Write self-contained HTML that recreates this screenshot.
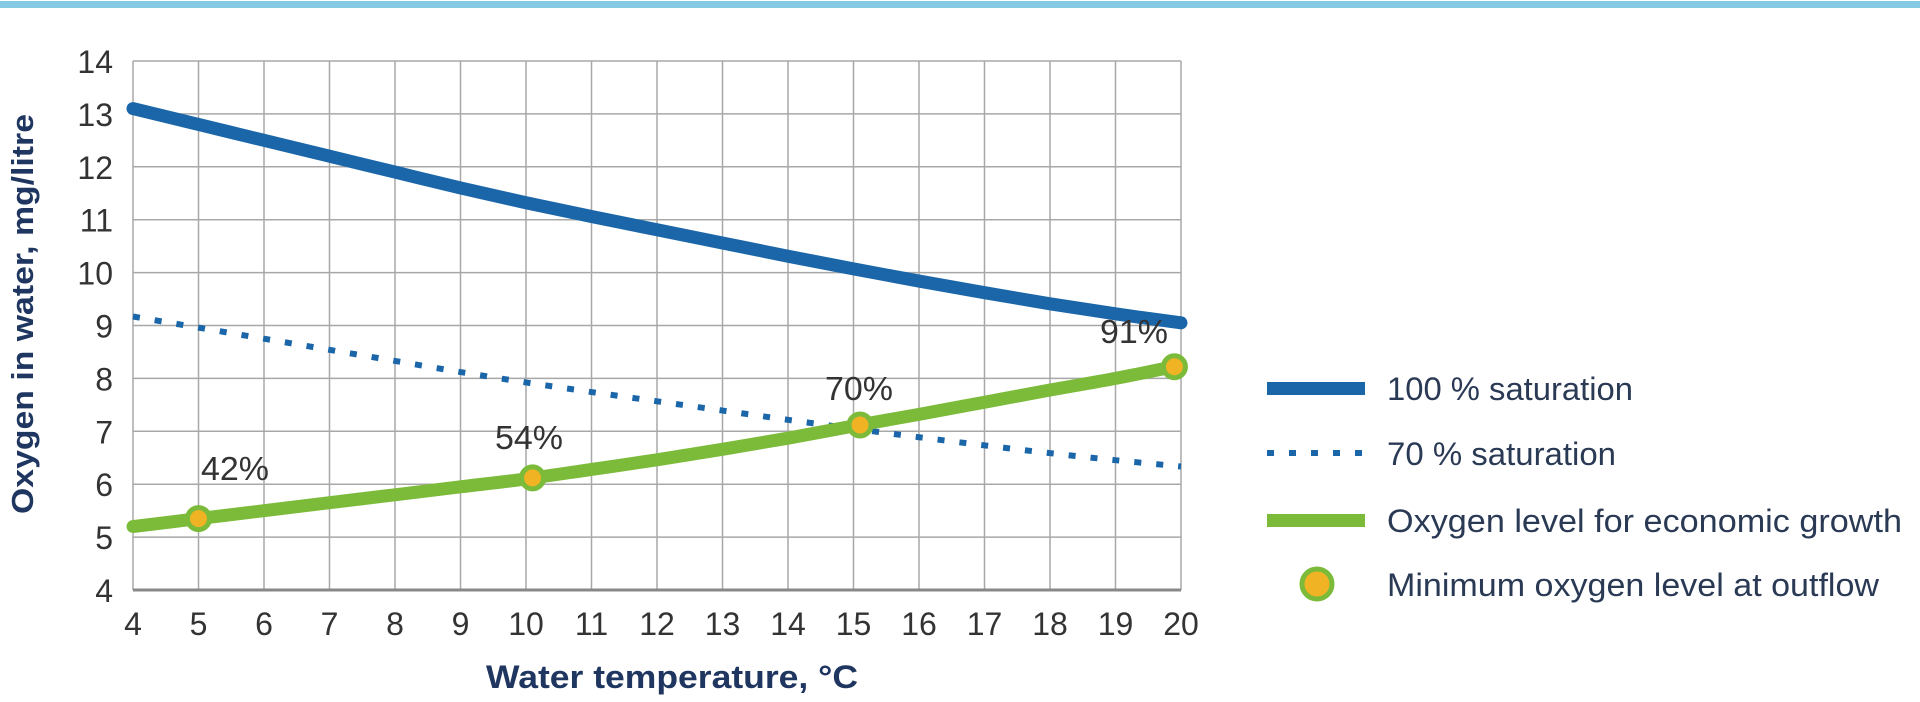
<!DOCTYPE html>
<html><head><meta charset="utf-8"><style>
html,body{margin:0;padding:0;background:#fff;}
svg{display:block;}
text{font-family:"Liberation Sans Narrow","Liberation Sans",sans-serif;}
</style></head><body>
<svg id="s" width="1920" height="702" xmlns="http://www.w3.org/2000/svg">
<rect x="0" y="1" width="1920" height="7" fill="#86c9e3"/>
<g id="grid" stroke="#a8a8a8" stroke-width="1.5" fill="none"></g>
<g id="ylab" font-size="32" fill="#333" text-anchor="end"></g>
<g id="xlab" font-size="32" fill="#333" text-anchor="middle"></g>
<path id="blue" fill="none" stroke="#1a66a8" stroke-width="13" stroke-linecap="round" stroke-linejoin="round"/>
<path id="dot" fill="none" stroke="#1a66a8" stroke-width="6" stroke-dasharray="7 15"/>
<path id="green" fill="none" stroke="#7cbb3a" stroke-width="13" stroke-linecap="round" stroke-linejoin="round"/>
<g id="pts" fill="#f0b323" stroke="#7cbb3a" stroke-width="5"></g>
<g font-size="33" fill="#333">
<text x="201" y="480" textLength="68" lengthAdjust="spacingAndGlyphs">42%</text>
<text x="495" y="449" textLength="68" lengthAdjust="spacingAndGlyphs">54%</text>
<text x="825" y="400" textLength="68" lengthAdjust="spacingAndGlyphs">70%</text>
<text x="1100" y="343" textLength="68" lengthAdjust="spacingAndGlyphs">91%</text>
</g>
<text x="486" y="688" font-size="32" font-weight="bold" fill="#1f3660" textLength="372" lengthAdjust="spacingAndGlyphs" style="font-family:'Liberation Sans',sans-serif">Water temperature, °C</text>
<text transform="translate(33,514) rotate(-90)" font-size="31" font-weight="bold" fill="#1f3660" textLength="400" lengthAdjust="spacingAndGlyphs" style="font-family:'Liberation Sans',sans-serif">Oxygen in water, mg/litre</text>
<rect x="1267" y="382" width="98" height="13" fill="#1a66a8"/>
<line x1="1267" y1="453" x2="1365" y2="453" stroke="#1a66a8" stroke-width="6" stroke-dasharray="7 15"/>
<rect x="1267" y="514" width="98" height="13" fill="#7cbb3a"/>
<circle cx="1317" cy="584" r="15" fill="#f0b323" stroke="#7cbb3a" stroke-width="5"/>
<g font-size="32" fill="#2a3a55">
<text x="1387" y="400" textLength="246" lengthAdjust="spacingAndGlyphs">100 % saturation</text>
<text x="1387" y="465" textLength="229" lengthAdjust="spacingAndGlyphs">70 % saturation</text>
<text x="1387" y="532" textLength="515" lengthAdjust="spacingAndGlyphs">Oxygen level for economic growth</text>
<text x="1387" y="596" textLength="492" lengthAdjust="spacingAndGlyphs">Minimum oxygen level at outflow</text>
</g>
</svg>
<script>
var X=t=>133+(t-4)*65.5, Y=v=>590-(v-4)*52.9;
var g=document.getElementById('grid'),h='';
for(var t=4;t<=20;t++)h+='<line x1="'+X(t)+'" y1="61" x2="'+X(t)+'" y2="590"/>';
for(var v=4;v<=14;v++)h+='<line x1="133" y1="'+Y(v)+'" x2="1181" y2="'+Y(v)+'"/>';
g.innerHTML=h+'<line x1="133" y1="590" x2="1181" y2="590" stroke="#888" stroke-width="3"/>';
var yl='';for(v=4;v<=14;v++)yl+='<text x="113" y="'+(Y(v)+12)+'">'+v+'</text>';
document.getElementById('ylab').innerHTML=yl;
var xl='';for(t=4;t<=20;t++)xl+='<text x="'+X(t)+'" y="635">'+t+'</text>';
document.getElementById('xlab').innerHTML=xl;
var b=[13.1,12.8,12.5,12.2,11.9,11.6,11.32,11.06,10.81,10.56,10.31,10.07,9.84,9.62,9.41,9.22,9.05];
var gr=[5.2,5.35,5.5,5.65,5.8,5.95,6.1,6.28,6.46,6.66,6.87,7.1,7.32,7.55,7.78,8.0,8.25];
function p(a,f){var P=a.map((v,i)=>[X(4+i),Y(f?v*f:v)]);var d='M'+P[0][0]+' '+P[0][1];
for(var i=0;i<P.length-1;i++){var p0=P[Math.max(0,i-1)],p1=P[i],p2=P[i+1],p3=P[Math.min(P.length-1,i+2)];
d+=' C'+(p1[0]+(p2[0]-p0[0])/6)+' '+(p1[1]+(p2[1]-p0[1])/6)+' '+(p2[0]-(p3[0]-p1[0])/6)+' '+(p2[1]-(p3[1]-p1[1])/6)+' '+p2[0]+' '+p2[1];}return d;}
document.getElementById('blue').setAttribute('d',p(b));
document.getElementById('dot').setAttribute('d',p(b,0.7));
document.getElementById('green').setAttribute('d',p(gr));
var pts=[[5,5.35],[10.1,6.12],[15.1,7.12],[19.9,8.22]];
document.getElementById('pts').innerHTML=pts.map(q=>'<circle cx="'+X(q[0])+'" cy="'+Y(q[1])+'" r="11"/>').join('');
</script>
</body></html>
